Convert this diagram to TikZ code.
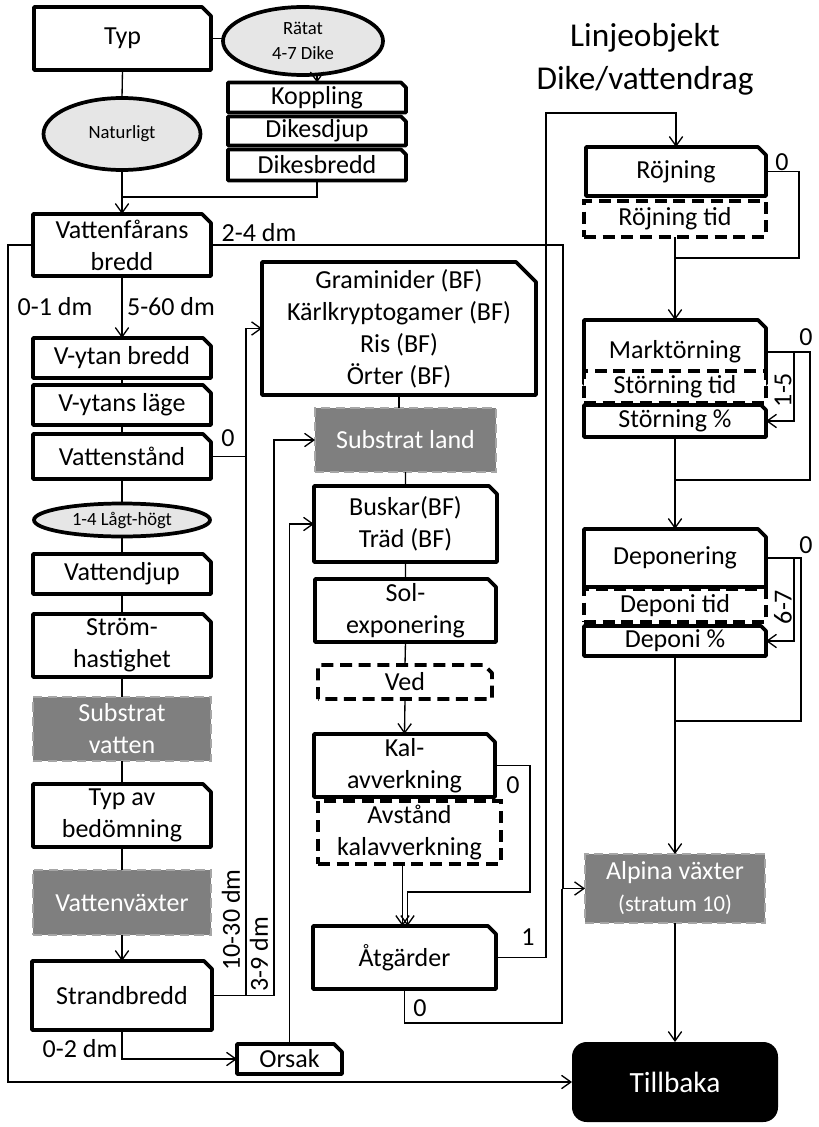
\documentclass[tikz,border=0pt]{standalone}
\usepackage{fontspec}
\setmainfont{Carlito}
\usetikzlibrary{shapes.geometric,arrows.meta,calc}
\definecolor{gfill}{HTML}{7F7F7F}
\definecolor{gline}{HTML}{A6A6A6}
\definecolor{efill}{HTML}{E6E6E6}
\newcommand\snipnode[7][8]{%
  \node[base,fill=white,sz={#5}{#6}] (#2) at (#3,#4) {#7};
  \draw[bord] (#2.south west) -- (#2.north west) -- ([xshift=-#1*0.75pt]#2.north east) -- ([yshift=-#1*0.75pt]#2.north east) -- (#2.south east) -- cycle;
}
\newcommand\dsnipnode[7][8]{%
  \node[base,fill=white,sz={#5}{#6}] (#2) at (#3,#4) {#7};
  \draw[bord,dash pattern=on 9pt off 5pt] (#2.south west) -- (#2.north west) -- ([xshift=-#1*0.75pt]#2.north east) -- ([yshift=-#1*0.75pt]#2.north east) -- (#2.south east) -- cycle;
}
\begin{document}
\begin{tikzpicture}[x=0.75pt,y=-0.75pt,
  sz/.style 2 args={minimum width=#1*0.75pt,minimum height=#2*0.75pt},
  base/.style={inner sep=0pt,outer sep=0pt,align=center,font=\fontsize{19.5}{24}\selectfont},
  bord/.style={line width=2.8pt,line join=round},
  conn/.style={line width=1pt},
  arr/.style={conn,-{Straight Barb[length=7pt,width=10pt,line width=1pt]}},
  ell/.style={base,ellipse,draw,line width=2.8pt,fill=efill,font=\fontsize{14}{19}\selectfont},
  dbox/.style={base,draw,line width=2.8pt,dash pattern=on 9pt off 5pt,fill=white},
  gbox/.style={base,draw=gline,fill=gfill,line width=2pt,dash pattern=on 7pt off 4pt,text=white},
  lab/.style={inner sep=0pt,font=\fontsize{19.5}{24}\selectfont},
  titletext/.style={inner sep=0pt,align=center,font=\fontsize{25}{32}\selectfont}]
\useasboundingbox (0,0) rectangle (818,1127);

% left column
\snipnode[9]{typ}{122.5}{38.5}{177}{63}{Typ}
\node[ell,sz={160}{68}] (ratat) at (303,41) {Rätat\\4-7 Dike};
\snipnode[5]{kopp}{317}{97.5}{178}{30}{Koppling}
\snipnode[5]{djup}{317}{131}{178}{29}{Dikesdjup}
\snipnode[5]{dbr}{317}{165}{178}{31}{Dikesbredd}
\node[ell,sz={157}{72}] (natur) at (122,134) {Naturligt};
\snipnode[9]{vfb}{122}{245}{178}{62}{Vattenfårans\\bredd}
\snipnode{vyb}{122}{358}{178}{40}{V-ytan bredd}
\snipnode{vyl}{122}{405}{178}{40}{V-ytans läge}
\snipnode{vst}{122}{456.5}{178}{45}{Vattenstånd}
\node[ell,sz={176}{33}] (lag) at (122,520) {1-4 Lågt-högt};
\snipnode{vdj}{122}{574}{178}{40}{Vattendjup}
\snipnode{strom}{122}{645.5}{178}{63}{Ström-\\hastighet}
\node[gbox,sz={178}{64}] (subv) at (122,729) {Substrat\\vatten};
\snipnode{typav}{122}{815.5}{178}{63}{Typ av\\bedömning}
\node[gbox,sz={178}{65}] (vaxt) at (122,902.5) {Vattenväxter};
\snipnode{strand}{122}{995.5}{180}{69}{Strandbredd}
\snipnode{orsak}{289.5}{1059}{105}{30}{Orsak}

% middle column
\snipnode[20]{gram}{399}{328.5}{274}{133}{Graminider (BF)\\Kärlkryptogamer (BF)\\Ris (BF)\\Örter (BF)}
\node[gbox,sz={181}{64}] (subl) at (405.5,440) {Substrat land};
\snipnode{busk}{405.5}{524}{183}{76}{Buskar(BF)\\Träd (BF)}
\snipnode{sol}{405.5}{610.5}{181}{63}{Sol-\\exponering}
\dsnipnode{ved}{405}{682}{174}{34}{Ved}
\snipnode{kal}{404.5}{765.5}{181}{63}{Kal-\\avverkning}
\node[dbox,sz={183}{63}] (avst) at (409.5,832.5) {Avstånd\\kalavverkning};
\snipnode{atg}{404.5}{957.5}{183}{63}{Åtgärder}

% right column
\node[titletext] (title) at (645,59) {Linjeobjekt\\Dike/vattendrag};
\snipnode{roj}{676}{171.5}{180}{49}{Röjning}
\node[dbox,sz={182}{36}] (rojt) at (675,219) {Röjning tid};
\snipnode{mark}{675}{352}{182}{64}{Marktörning}
\node[dbox,sz={182}{32}] (stid) at (675,387) {Störning tid};
\snipnode[5]{spct}{675}{421}{182}{32}{Störning \%}
\snipnode{dep}{675}{558}{182}{58}{Deponering}
\node[dbox,sz={182}{33}] (dept) at (675,605.5) {Deponi tid};
\snipnode[5]{dpct}{675}{641}{182}{30}{Deponi \%}
\node[gbox,sz={180}{69}] (alp) at (675,888.5) {Alpina växter\\{\fontsize{17}{22}\selectfont (stratum 10)}};
\node[base,fill=black,text=white,rounded corners=11pt,sz={206}{80},font=\fontsize{22}{26}\selectfont] (till) at (675,1082) {Tillbaka};

% connectors
\draw[conn] (typ.east) -- (typ.east -| ratat.west);
\draw[arr] (kopp.north |- ratat.south) -- (kopp.north);
\draw[conn] (typ.south) -- (natur.north);
\draw[arr] (natur.south) -- (vfb.north);
\coordinate (j1) at (122,197);
\draw[conn] (dbr.south) |- (j1);
\draw[arr] (vfb.east) -| ($(alp.west)+(-22,0)$) -- (alp.west);
\draw[arr] (vfb.west) -- ++(-25,0) |- (till.west);
\draw[arr] (vfb.south) -- (vyb.north);
\draw[conn] (vyb.south) -- (vyl.north) (vyl.south) -- (vst.north)
  (vst.south) -- (lag.north) (lag.south) -- (vdj.north)
  (vdj.south) -- (strom.north) (strom.south) -- (subv.north)
  (subv.south) -- (typav.north) (typav.south) -- (vaxt.north);
\draw[arr] (vaxt.south) -- (strand.north);
\coordinate (g245) at ($(gram.west)+(-16,0)$);
\draw[arr] (strand.east) -| (g245) -- (gram.west);
\draw[conn] (vst.east) -- (vst.east -| g245);
\draw[arr] (strand.east) -| ($(subl.west)+(-41,0)$) -- (subl.west);
\draw[arr] (strand.south) |- (orsak.west);
\draw[arr] (orsak.north) |- (busk.west);
\draw[conn] (gram.south) -- (gram.south |- subl.north);
\draw[conn] (subl.south) -- (busk.north) (busk.south) -- (sol.north) (sol.south) -- (ved.north);
\draw[arr] (ved.south) -- (kal.north);
\coordinate (k1) at (530,892);
\draw[arr] (kal.east) -| (k1) -| ($(atg.north)+(3,0)$);
\draw[arr] ($(avst.south -| atg.north)+(-2,0)$) -- ($(atg.north)+(-2,0)$);
\coordinate (c1) at (546,113);
\draw[arr] (atg.east) -| (c1) -| (roj.north);
\coordinate (c2) at (562,1023);
\draw[conn] (atg.south) |- (c2) -- (c2 |- alp.west);
\coordinate (c3) at (799,258);
\draw[conn] (roj.east) -| (c3) -- (c3 -| rojt.south);
\draw[arr] (rojt.south) -- (mark.north);
\coordinate (c4) at (810,480);
\draw[conn] (mark.east) -| (c4) -- (c4 -| spct.south);
\draw[arr] ($(mark.east)+(28,0)$) |- (spct.east);
\draw[arr] (spct.south) -- (dep.north);
\coordinate (c5) at (801,721);
\draw[conn] (dep.east) -| (c5) -- (c5 -| dpct.south);
\draw[arr] ($(dep.east)+(28,0)$) |- (dpct.east);
\draw[arr] (dpct.south) -- (alp.north);
\draw[arr] (alp.south) -- (till.north);

% labels
\node[lab] (l1) at (259,233) {2-4 dm};
\node[lab] (l2) at (55,307) {0-1 dm};
\node[lab] (l3) at (171,307) {5-60 dm};
\node[lab] (l4) at (228,438) {0};
\node[lab,rotate=90] (l5) at (231,920) {10-30 dm};
\node[lab,rotate=90] (l6) at (259,954) {3-9 dm};
\node[lab] (l7) at (80,1049) {0-2 dm};
\node[lab] (l8) at (513,785) {0};
\node[lab] (l9) at (528,937) {1};
\node[lab] (l10) at (420,1008) {0};
\node[lab] (l11) at (782,162) {0};
\node[lab] (l12) at (806,337) {0};
\node[lab,rotate=90] (l13) at (783,390) {1-5};
\node[lab] (l14) at (806,545) {0};
\node[lab,rotate=90] (l15) at (783,607) {6-7};
\end{tikzpicture}
\end{document}
